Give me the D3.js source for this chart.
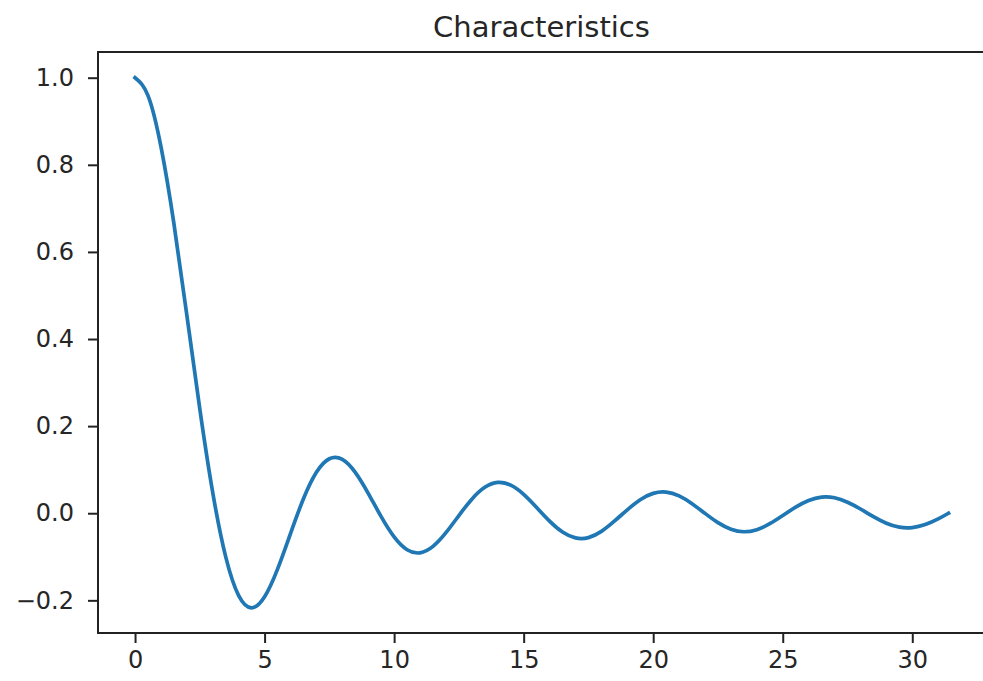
<!DOCTYPE html>
<html>
<head>
<meta charset="utf-8">
<script src="https://cdn.jsdelivr.net/npm/d3@7"></script>
<style>
  body { margin: 0; background: #fff; overflow: hidden; }
  svg { display: block; font-family: "DejaVu Sans", sans-serif; }
</style>
</head>
<body>
<div id="chart"></div>
<script>
// values
var xValues = [0, 0.5, 1, 1.5, 2, 2.5, 3, 3.5, 4, 4.5, 5, 5.5, 6, 6.5, 7, 7.5, 8, 8.5, 9, 9.5,
  10, 10.5, 11, 11.5, 12, 12.5, 13, 13.5, 14, 14.5, 15, 15.5, 16, 16.5, 17, 17.5, 18, 18.5, 19, 19.5,
  20, 20.5, 21, 21.5, 22, 22.5, 23, 23.5, 24, 24.5, 25, 25.5, 26, 26.5, 27, 27.5, 28, 28.5, 29, 29.5,
  30, 30.5, 31, 31.4];
var yValues = [1.0, 0.9589, 0.8415, 0.6650, 0.4546, 0.2394, 0.0470, -0.1002, -0.1892, -0.2172,
  -0.1918, -0.1283, -0.0466, 0.0331, 0.0939, 0.1251, 0.1237, 0.0939, 0.0458, -0.0079,
  -0.0544, -0.0838, -0.0909, -0.0761, -0.0447, -0.0053, 0.0323, 0.0595, 0.0708, 0.0645,
  0.0434, 0.0133, -0.0180, -0.0431, -0.0566, -0.0560, -0.0417, -0.0183, 0.0079, 0.0311,
  0.0456, 0.0486, 0.0398, 0.0219, -0.0004, -0.0217, -0.0368, -0.0425, -0.0377, -0.0241,
  -0.0053, 0.0140, 0.0293, 0.0370, 0.0354, 0.0252, 0.0097, -0.0079, -0.0229, -0.0319,
  -0.0329, -0.0260, -0.0130, 0.0];
var xTicks = [0, 5, 10, 15, 20, 25, 30];
var yTicks = [-0.2, 0.0, 0.2, 0.4, 0.6, 0.8, 1.0];
var title = "Characteristics";

var width = 983, height = 681;
// right edge of the axes lies outside the picture (cropped in the reference)
var plot = {left: 98, right: 990, top: 52, bottom: 633};

var svg = d3.select("#chart")
  .append("svg")
    .attr("width", width)
    .attr("height", height);

var x = d3.scaleLinear()
  .domain([-1.43, 33.0])
  .range([plot.left, plot.right]);

var y = d3.scaleLinear()
  .domain([-0.275, 1.059])
  .range([plot.bottom, plot.top]);

var data = xValues.map(function(d, i) { return {x: d, y: yValues[i]}; });

// the curve
var line = d3.line()
  .x(function(d) { return x(d.x); })
  .y(function(d) { return y(d.y); })
  .curve(d3.curveNatural);

svg.append("path")
  .datum(data)
  .attr("fill", "none")
  .attr("stroke", "#1f77b4")
  .attr("stroke-width", 3.7)
  .attr("stroke-linejoin", "round")
  .attr("stroke-linecap", "square")
  .attr("d", line);

// x axis
var xAxis = svg.append("g")
  .attr("transform", "translate(0," + plot.bottom + ")")
  .call(d3.axisBottom(x).tickValues(xTicks).tickSize(10).tickPadding(8).tickSizeOuter(0));

// y axis
var yAxis = svg.append("g")
  .attr("transform", "translate(" + plot.left + ",0)")
  .call(d3.axisLeft(y).tickValues(yTicks).tickSize(10).tickPadding(14).tickSizeOuter(0)
    .tickFormat(function(d) { return d3.format(".1f")(d).replace("-", "\u2212"); }));

[xAxis, yAxis].forEach(function(a) {
  a.select(".domain").remove();
  a.selectAll(".tick line").attr("stroke", "#222").attr("stroke-width", 2);
  a.selectAll(".tick text")
    .attr("fill", "#262626")
    .style("font-family", "'DejaVu Sans', sans-serif")
    .style("font-size", "24px");
});

// spines: left, top, bottom (right one falls off the picture)
var spines = [
  [plot.left, plot.top, plot.left, plot.bottom],
  [plot.left - 1, plot.top, width, plot.top],
  [plot.left - 1, plot.bottom, width, plot.bottom]
];
svg.selectAll("line.spine")
  .data(spines)
  .enter()
  .append("line")
    .attr("class", "spine")
    .attr("x1", function(d) { return d[0]; })
    .attr("y1", function(d) { return d[1]; })
    .attr("x2", function(d) { return d[2]; })
    .attr("y2", function(d) { return d[3]; })
    .attr("stroke", "#222")
    .attr("stroke-width", 2);

// title
svg.append("text")
  .attr("x", 541.5)
  .attr("y", 37)
  .attr("text-anchor", "middle")
  .attr("fill", "#262626")
  .style("font-size", "29px")
  .text(title);
</script>
</body>
</html>
